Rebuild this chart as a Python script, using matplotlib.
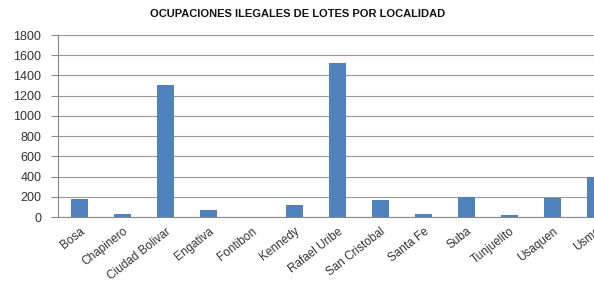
import matplotlib
matplotlib.use("Agg")
import matplotlib.pyplot as plt
import matplotlib.transforms as mtransforms
import numpy as np

categories = ["Bosa", "Chapinero", "Ciudad Bolivar", "Engativa", "Fontibon", "Kennedy",
              "Rafael Uribe", "San Cristobal", "Santa Fe", "Suba", "Tunjuelito", "Usaquen", "Usme"]
values = [178, 30, 1305, 65, 3, 120, 1520, 170, 30, 200, 22, 190, 400]
yticks = [0, 200, 400, 600, 800, 1000, 1200, 1400, 1600, 1800]
title = "OCUPACIONES ILEGALES DE LOTES POR LOCALIDAD"

plt.rcParams['font.family'] = ['Liberation Sans', 'DejaVu Sans']

fig = plt.figure(figsize=(5.94, 2.83), dpi=100)
W, H = 594, 283
left, right = 58, 617
top, bottom = 35, 217
ax = fig.add_axes([left / W, 1 - bottom / H, (right - left) / W, (bottom - top) / H])

x = np.arange(len(categories))
ax.bar(x, values, width=0.4, color="#4F81BD", zorder=3)
ax.set_xlim(-0.5, len(categories) - 0.5)
ax.set_ylim(0, 1800)
ax.set_yticks(yticks)
ax.set_yticklabels([str(v) for v in yticks], fontsize=9, color="#333333")
ax.set_xticks(x)
ax.set_xticklabels(categories, rotation=38, ha="right", rotation_mode="anchor", fontsize=8.5, color="#333333")
offset = mtransforms.ScaledTranslation(5 / 100, 0, fig.dpi_scale_trans)
for lab in ax.get_xticklabels():
    lab.set_transform(lab.get_transform() + offset)
ax.tick_params(axis="x", length=0, pad=6)
ax.tick_params(axis="y", length=5, direction="out", color="#888888", pad=7)
ax.grid(axis="y", color="#999999", linewidth=0.8, zorder=0)
for s in ["top", "right"]:
    ax.spines[s].set_visible(False)
ax.spines["left"].set_color("#888888")
ax.spines["bottom"].set_color("#888888")

fig.text(297.5 / W, 1 - 14 / H, title, ha="center", va="center",
         fontsize=8, fontweight="bold", color="#111111")

fig.savefig("out.png", dpi=100)
